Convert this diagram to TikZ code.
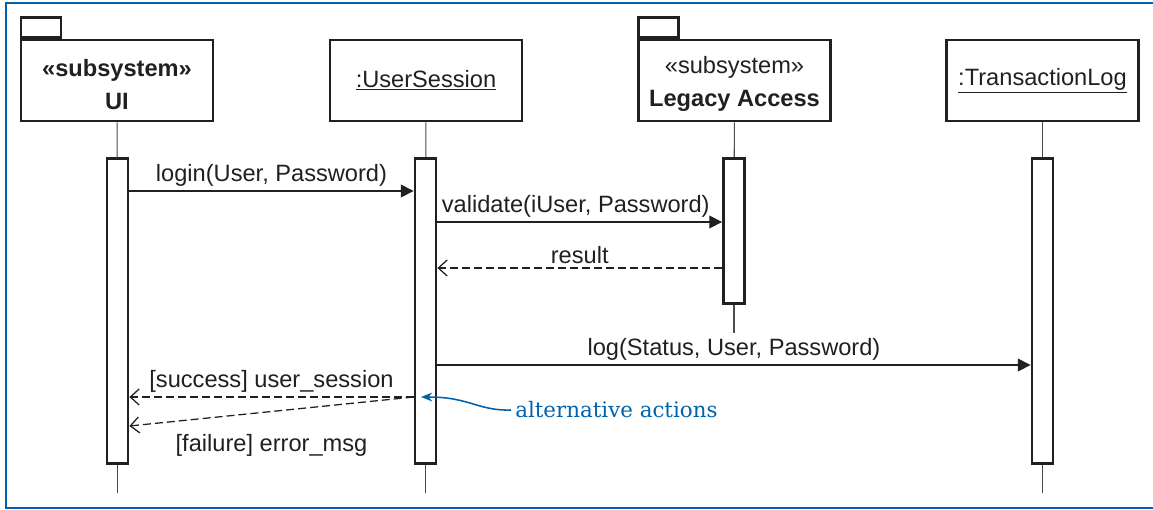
\documentclass[tikz,border=0pt]{standalone}
\usepackage{fontspec}
\setmainfont{Liberation Sans}
\newfontfamily\notefont{DejaVu Serif}
\usetikzlibrary{arrows.meta, positioning}
\definecolor{umlblue}{RGB}{0,98,172}
\definecolor{umlink}{RGB}{35,31,32}

\begin{document}
\begin{tikzpicture}[x=0.025cm, y=-0.025cm, color=umlink,
    font=\fontsize{16.8}{21.3}\selectfont,
    obj/.style={draw, line width=2pt, minimum width=4.8cm, minimum height=2.025cm, align=center, inner sep=0pt},
    tab/.style={draw, line width=2pt, minimum width=1cm, minimum height=0.5cm, anchor=south west, inner sep=0pt},
    headtext/.style={align=center, inner sep=0pt},
    bar/.style={draw, line width=2pt, fill=white, minimum width=0.525cm, anchor=north, inner sep=0pt},
    life/.style={line width=0.75pt, black!70},
    call/.style={line width=0.9pt, -{Triangle[length=0.32cm, width=0.32cm]}},
    reply/.style={line width=0.9pt, dash pattern=on 0.2cm off 0.1cm, -{Straight Barb[length=0.22cm, width=0.4cm]}},
    lbl/.style={inner sep=0.1cm},
    note/.style={umlblue, font=\notefont\fontsize{15.2}{18}\selectfont, inner sep=0.1cm}]
    \useasboundingbox (0,0) rectangle (1153,509);
    \draw[umlblue, line width=1.4pt] (1153,3) -- (6,3) -- (6,508) -- (1153,508);

    % lifeline heads
    \node[obj] (ui) at (117,80.5) {};
    \node[obj] (us) at (426,80.5) {\underline{:UserSession}};
    \node[obj] (la) at (734.5,80.5) {};
    \node[obj] (tl) at (1042.5,80.5) {\underline{:TransactionLog}};
    \node[tab] (uiTab) at (ui.north west) {};
    \node[tab] (laTab) at (la.north west) {};
    \node[headtext] (uiName) at ([yshift=-0.11cm]ui.center) {\textbf{«subsystem»}\\[2pt]\textbf{UI}};
    \node[headtext] (laName) at ([yshift=-0.09cm]la.center) {«subsystem»\\[2pt]\textbf{Legacy Access}};

    % activations and lifelines
    \foreach \n/\x/\h/\e in {ui/117.5/305/493, us/425.5/305/493, la/734/145/333, tl/1042.5/305/493} {
        \node[bar, minimum height=\h*0.025cm] (\n-bar) at (\x,157) {};
        \coordinate (\n-end) at (\x,\e);
        \draw[life] (\n) -- (\n-bar);
        \draw[life] (\n-bar) -- (\n-end);
    }

    % messages
    \coordinate (mLogin) at (0,191);
    \coordinate (mValidate) at (0,222);
    \coordinate (mResult) at (0,268);
    \coordinate (mLog) at (0,365);
    \coordinate (mAlt) at (0,397);
    \coordinate (mFail) at (0,426);
    \draw[call] (ui-bar.east |- mLogin) -- (us-bar.west |- mLogin)
        node[lbl, midway, above] {login(User, Password)};
    \draw[call] (us-bar.east |- mValidate) -- (la-bar.west |- mValidate)
        node[lbl, midway, above, xshift=-0.1cm] {validate(iUser, Password)};
    \draw[reply] (la-bar.west |- mResult) -- (us-bar.east |- mResult)
        node[lbl, midway, above] {result};
    \draw[call] (us-bar.east |- mLog) -- (tl-bar.west |- mLog)
        node[lbl, midway, above] {log(Status, User, Password)};
    \draw[reply] (us-bar.west |- mAlt) -- (ui-bar.east |- mAlt)
        node[lbl, midway, above] {[success] user\_session};
    \draw[reply] (us-bar.west |- mAlt) -- (ui-bar.east |- mFail)
        node[lbl, midway, below=0.46cm] {[failure] error\_msg};

    % annotation
    \node[note, anchor=west] (alt) at (511,410) {alternative actions};
    \coordinate (altTip) at (421,397);
    \draw[umlblue, line width=1.1pt, -{Stealth[length=0.28cm, width=0.22cm]}]
        (alt.west) .. controls (478,411) and (470,397) .. (altTip);
\end{tikzpicture}
\end{document}
